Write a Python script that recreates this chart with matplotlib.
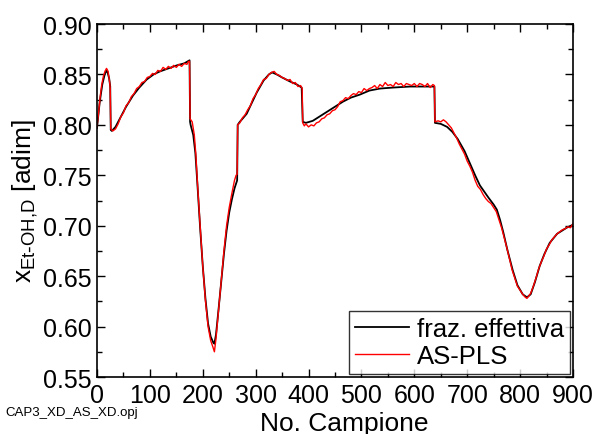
import matplotlib
matplotlib.use("Agg")
import matplotlib.pyplot as plt
from matplotlib.ticker import MultipleLocator

plt.rcParams['font.family'] = ['Liberation Sans', 'DejaVu Sans']

# --- data: "fraz. effettiva" (black) ---
eff_x = [0, 5, 10, 15, 19, 23, 25, 26, 28, 35, 43, 55, 68, 80, 94, 107, 119, 135, 151, 165, 175,
         176, 177, 182, 186, 190, 195, 200, 205, 210, 215, 220, 222, 225, 230, 235, 240, 245, 250,
         255, 260, 265, 266, 270, 275, 283, 292, 302, 315, 325, 331, 340, 350, 365, 378, 387, 389,
         395, 408, 420, 435, 450, 465, 480, 497, 515, 535, 560, 592, 615, 638, 639, 650, 662, 672,
         682, 695, 705, 715, 724, 740, 750, 756, 762, 768, 776, 786, 795, 805, 813, 820, 828, 837,
         846, 856, 870, 888, 900]
eff_y = [0.797, 0.822, 0.840, 0.851, 0.854, 0.846, 0.838, 0.795, 0.794, 0.798, 0.806, 0.818,
         0.829, 0.837, 0.845, 0.850, 0.853, 0.856, 0.859, 0.861, 0.864,
         0.803, 0.800, 0.790, 0.772, 0.740, 0.698, 0.660, 0.628, 0.603, 0.590, 0.584, 0.583,
         0.592, 0.618, 0.645, 0.672, 0.695, 0.713, 0.726, 0.737, 0.745, 0.800, 0.803, 0.806,
         0.811, 0.821, 0.832, 0.844, 0.850, 0.852, 0.850, 0.847, 0.843, 0.840, 0.837, 0.803,
         0.802, 0.804, 0.808, 0.813, 0.818, 0.823, 0.827, 0.830, 0.834, 0.836, 0.837, 0.838,
         0.838, 0.838, 0.802, 0.801, 0.798, 0.793, 0.786, 0.774, 0.762, 0.750, 0.740, 0.728,
         0.721, 0.716, 0.706, 0.694, 0.676, 0.656, 0.641, 0.632, 0.629, 0.632, 0.644, 0.660,
         0.672, 0.683, 0.692, 0.698, 0.701]

# --- data: "AS-PLS" (red) ---
pls_x = [0, 3, 6, 9, 12, 15, 18, 21, 24, 25, 26, 30, 35, 40, 45, 50, 55, 60, 65, 70, 75, 80, 85,
         90, 95, 100, 105, 110, 115, 120, 125, 130, 135, 140, 145, 150, 155, 160, 165, 170, 173,
         175, 176, 180, 184, 187, 190, 195, 200, 205, 210, 215, 219, 222, 225, 230, 235, 240, 245,
         250, 255, 260, 263, 265, 266, 270, 275, 280, 285, 290, 295, 300, 305, 310, 315, 320, 325,
         330, 335, 340, 345, 350, 355, 360, 365, 370, 375, 380, 385, 388, 389, 392, 395, 400, 405,
         410, 415, 420, 425, 430, 435, 440, 445, 450, 455, 460, 465, 470, 475, 480, 485, 490, 495,
         500, 505, 510, 515, 520, 525, 530, 535, 540, 545, 550, 555, 560, 565, 570, 575, 580, 585,
         590, 595, 600, 605, 610, 615, 620, 625, 630, 635, 638, 639, 645, 650, 655, 660, 665, 670,
         675, 680, 685, 690, 695, 700, 705, 710, 715, 720, 725, 730, 735, 740, 745, 750, 755, 760,
         765, 770, 775, 780, 785, 790, 795, 800, 805, 810, 813, 816, 820, 825, 830, 835, 840, 845,
         850, 855, 860, 865, 870, 875, 880, 885, 890, 895, 900]
pls_y = [0.798, 0.812, 0.828, 0.840, 0.848, 0.853, 0.856, 0.853, 0.842, 0.836, 0.796, 0.794,
         0.796, 0.801, 0.808, 0.812, 0.819, 0.822, 0.828, 0.831, 0.836, 0.838, 0.842, 0.843,
         0.847, 0.848, 0.851, 0.850, 0.854, 0.853, 0.857, 0.855, 0.858, 0.856, 0.859, 0.857,
         0.860, 0.858, 0.861, 0.860, 0.863, 0.863, 0.806, 0.803, 0.790, 0.770, 0.742, 0.700,
         0.660, 0.626, 0.600, 0.586, 0.580, 0.575, 0.588, 0.617, 0.646, 0.675, 0.700, 0.718,
         0.732, 0.745, 0.750, 0.751, 0.800, 0.802, 0.807, 0.810, 0.815, 0.819, 0.826, 0.830,
         0.836, 0.840, 0.845, 0.846, 0.850, 0.852, 0.853, 0.850, 0.849, 0.847, 0.846, 0.844,
         0.845, 0.841, 0.842, 0.838, 0.839, 0.836, 0.802, 0.799, 0.801, 0.798, 0.800, 0.799,
         0.802, 0.803, 0.806, 0.807, 0.810, 0.811, 0.814, 0.815, 0.818, 0.823, 0.824, 0.827,
         0.826, 0.829, 0.831, 0.830, 0.833, 0.832, 0.836, 0.834, 0.836, 0.837, 0.839, 0.836,
         0.840, 0.838, 0.842, 0.839, 0.840, 0.838, 0.842, 0.840, 0.841, 0.838, 0.841, 0.840,
         0.839, 0.841, 0.838, 0.841, 0.840, 0.838, 0.841, 0.837, 0.840, 0.839, 0.803, 0.804,
         0.803, 0.805, 0.803, 0.800, 0.797, 0.792, 0.787, 0.781, 0.776, 0.771, 0.764, 0.759,
         0.753, 0.745, 0.739, 0.736, 0.731, 0.727, 0.724, 0.722, 0.718, 0.714, 0.706, 0.698,
         0.688, 0.678, 0.667, 0.656, 0.648, 0.640, 0.636, 0.632, 0.629, 0.628, 0.630, 0.633,
         0.640, 0.648, 0.657, 0.664, 0.670, 0.677, 0.681, 0.686, 0.689, 0.692, 0.694, 0.696,
         0.697, 0.699, 0.698, 0.702]

series_labels = ["fraz. effettiva", "AS-PLS"]
file_note = "CAP3_XD_AS_XD.opj"

fig = plt.figure(figsize=(5.94, 4.35), dpi=100)
ax = fig.add_axes([0.1633, 0.131, 0.8013, 0.8115])

ax.plot(eff_x, eff_y, color="black", lw=1.3, label=series_labels[0])
ax.plot(pls_x, pls_y, color="red", lw=1.0, label=series_labels[1])

ax.set_xlim(0, 900)
ax.set_ylim(0.55, 0.90)
ax.xaxis.set_major_locator(MultipleLocator(100))
ax.xaxis.set_minor_locator(MultipleLocator(50))
ax.yaxis.set_major_locator(MultipleLocator(0.05))
ax.yaxis.set_minor_locator(MultipleLocator(0.025))
ax.yaxis.set_major_formatter(plt.FormatStrFormatter('%.2f'))
ax.tick_params(which="both", direction="in", top=True, right=True, width=1.0)
ax.tick_params(axis="x", labelsize=18, pad=4)
ax.tick_params(axis="y", labelsize=18, pad=4)
ax.tick_params(which="major", length=6)
ax.tick_params(which="minor", length=3.5)
for s in ax.spines.values():
    s.set_linewidth(1.2)

ax.set_xlabel("No. Campione", fontsize=19, labelpad=0)
ax.xaxis.set_label_coords(0.52, -0.095)
ax.set_ylabel(r"x$_{\mathregular{Et\text{-}OH{,}D}}$ [adim]", fontsize=19, labelpad=2)

leg = ax.legend(loc="lower right", fontsize=18.5, frameon=True, fancybox=False,
                edgecolor="black", borderaxespad=0.1, handlelength=2.1,
                handletextpad=0.3, borderpad=0.25, labelspacing=0.12)
leg.get_frame().set_linewidth(1.0)

fig.text(5 / 594, 1 - 413 / 435, file_note, fontsize=9.5, va="center", ha="left")

fig.savefig("out.png", dpi=100)
